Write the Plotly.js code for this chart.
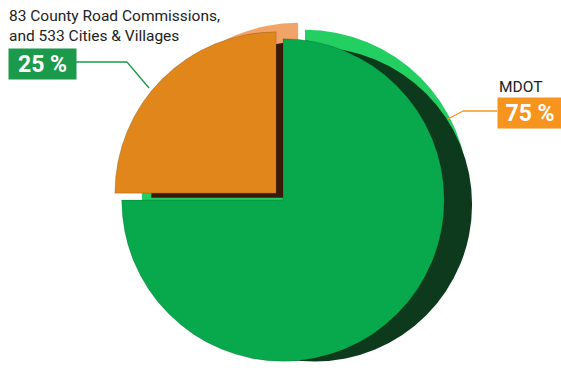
<!DOCTYPE html>
<html>
<head>
<meta charset="utf-8">
<script src="https://cdn.plot.ly/plotly-3.0.1.min.js"></script>
<style>html,body{margin:0;padding:0;background:#fff;}#chart{width:561px;height:371px;}</style>
</head>
<body>
<div id="chart"></div>
<script>
const labels = ["83 County Road Commissions, and 533 Cities & Villages", "MDOT"];
const values = [25, 75];
const pulls = [0.06, 0];
const faceColors = ["#e0861a", "#08a84c"];
const rimColors = ["#f2a468", "#24cf62"];
const sideColors = ["#3a1a08", "#0d3a1c"];
const pctText = ["25 %", "75 %"];

const W = 561, H = 371;
const px = x => x / W;
const py = y => 1 - y / H;

const common = {
  type: "pie", values: values, labels: labels, sort: false,
  direction: "clockwise", rotation: -90, pull: pulls,
  textinfo: "none", hoverinfo: "label+percent", showlegend: false
};

const rim = Object.assign({}, common, {
  marker: {colors: rimColors, line: {width: 0}},
  domain: {x: [px(132), px(478)], y: [py(366), py(20)]}
});
const side = Object.assign({}, common, {
  marker: {colors: sideColors, line: {width: 0}},
  domain: {x: [px(142), px(488)], y: [py(384), py(38)]}
});
const face = Object.assign({}, common, {
  marker: {colors: faceColors, line: {color: "rgba(0,0,0,0.25)", width: 0.6}},
  domain: {x: [px(110), px(456)], y: [py(375), py(29)]}
});

const layout = {
  width: W, height: H, margin: {l: 0, r: 0, t: 0, b: 0},
  paper_bgcolor: "#ffffff", showlegend: false,
  font: {family: "Roboto, Arial, sans-serif"},
  annotations: [
    {text: "83 County Road Commissions,<br>and 533 Cities & Villages", x: px(7), y: py(5), xref: "paper", yref: "paper",
     xanchor: "left", yanchor: "top", align: "left", showarrow: false,
     font: {size: 15.5, color: "#222222", family: "Roboto, Arial, sans-serif"}},
    {text: "<b>" + pctText[0] + "</b>", x: px(8), y: py(48), xref: "paper", yref: "paper",
     xanchor: "left", yanchor: "top", showarrow: false, width: 67, height: 30, bgcolor: "#1a9a4a", borderpad: 0,
     font: {size: 23, color: "#ffffff", family: "Roboto, Arial, sans-serif"}},
    {text: "MDOT", x: px(497), y: py(76), xref: "paper", yref: "paper",
     xanchor: "left", yanchor: "top", showarrow: false,
     font: {size: 15.5, color: "#222222", family: "Roboto, Arial, sans-serif"}},
    {text: "<b>" + pctText[1] + "</b>", x: px(497), y: py(97), xref: "paper", yref: "paper",
     xanchor: "left", yanchor: "top", showarrow: false, width: 64, height: 30, bgcolor: "#f7941d", borderpad: 0,
     font: {size: 23, color: "#ffffff", family: "Roboto, Arial, sans-serif"}}
  ],
  shapes: [
    {type: "line", xref: "paper", yref: "paper", x0: px(75), y0: py(62), x1: px(127), y1: py(62), line: {color: "#1a9a4a", width: 1.3}},
    {type: "line", xref: "paper", yref: "paper", x0: px(127), y0: py(62), x1: px(149), y1: py(88), line: {color: "#1a9a4a", width: 1.3}},
    {type: "line", xref: "paper", yref: "paper", x0: px(497), y0: py(111), x1: px(463), y1: py(111), line: {color: "#f7941d", width: 1.3}},
    {type: "line", xref: "paper", yref: "paper", x0: px(463), y0: py(111), x1: px(448), y1: py(119), line: {color: "#f7941d", width: 1.3}}
  ]
};

Plotly.newPlot("chart", [rim, side, face], layout, {displayModeBar: false, staticPlot: true});
</script>
</body>
</html>
